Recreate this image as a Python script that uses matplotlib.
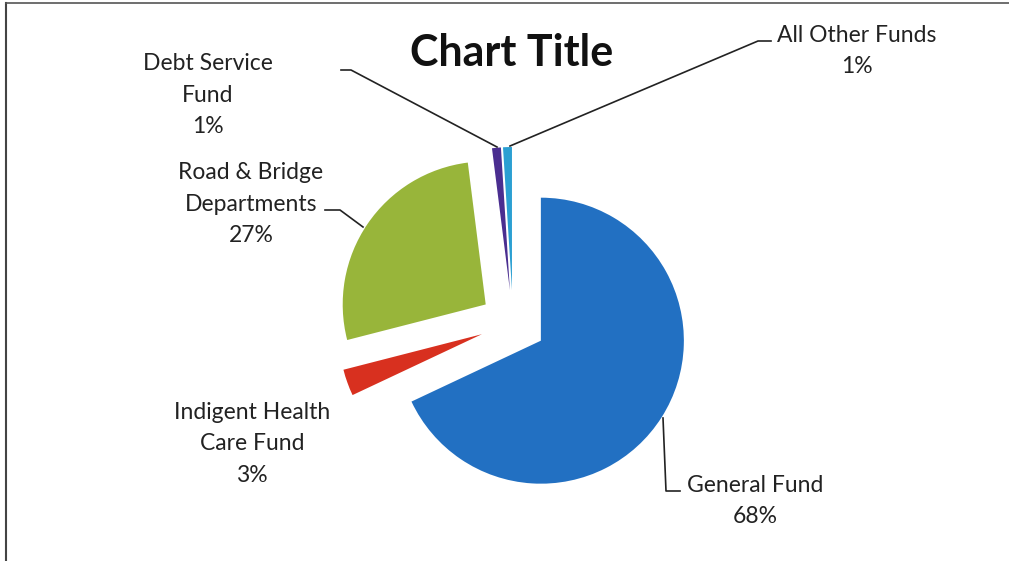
import matplotlib.pyplot as plt

# fund shares, clockwise from 12 o'clock
funds = ["General Fund", "Indigent Health\nCare Fund", "Road & Bridge\nDepartments",
         "Debt Service\nFund", "All Other Funds"]
shares = [68, 3, 27, 1, 1]
colors = ["#2270C2", "#D8301F", "#98B53A", "#4A2E90", "#2B9FD2"]

W, H = 1009, 561


def Y(y):
    # screen pixel row -> axes y (up)
    return H - y


def main():
    plt.rcParams['font.family'] = ['Lato', 'DejaVu Sans']
    fig = plt.figure(figsize=(W / 100, H / 100), dpi=100)
    ax = fig.add_axes([0, 0, 1, 1])

    # exploded pie, offsets in data units
    ax.pie(shares, colors=colors, startangle=90, counterclock=False,
           center=(513, Y(323)), radius=143, explode=[33] * len(shares),
           wedgeprops=dict(linewidth=0))
    ax.set_xlim(0, W)
    ax.set_ylim(0, H)
    ax.set_aspect('auto')
    ax.axis('off')

    ax.text(512, Y(53), "Chart Title", ha='center', va='center',
            fontsize=31, fontweight='bold', color='#111111')

    txt = dict(ha='center', va='center', multialignment='center',
               fontsize=16.5, color='#222222', linespacing=1.62)
    pct = [f"{s}%" for s in shares]
    ax.text(755, Y(501), f"{funds[0]}\n{pct[0]}", **txt)
    ax.text(252, Y(444), f"{funds[1]}\n{pct[1]}", **txt)
    ax.text(251, Y(204), f"{funds[2]}\n{pct[2]}", **txt)
    ax.text(208, Y(95), f"{funds[3]}\n{pct[3]}", **txt)
    ax.text(857, Y(51), f"{funds[4]}\n{pct[4]}", **txt)

    # leader lines
    lk = dict(color='#222222', lw=1.2)
    ax.plot([341, 351, 497], [Y(70), Y(70), Y(147)], **lk)
    ax.plot([771, 758, 510], [Y(41), Y(41), Y(146)], **lk)
    ax.plot([325, 340, 363], [Y(210), Y(210), Y(227)], **lk)
    ax.plot([663, 666, 680], [Y(418), Y(491), Y(491)], **lk)

    # chart border (left and top only, the rest is cropped)
    ax.plot([6, 6], [Y(3), Y(561)], color='#444444', lw=1.5)
    ax.plot([6, W - 0.5], [Y(3), Y(3)], color='#555555', lw=1.2)

    fig.savefig('out.png', dpi=100)


if __name__ == "__main__":
    main()
